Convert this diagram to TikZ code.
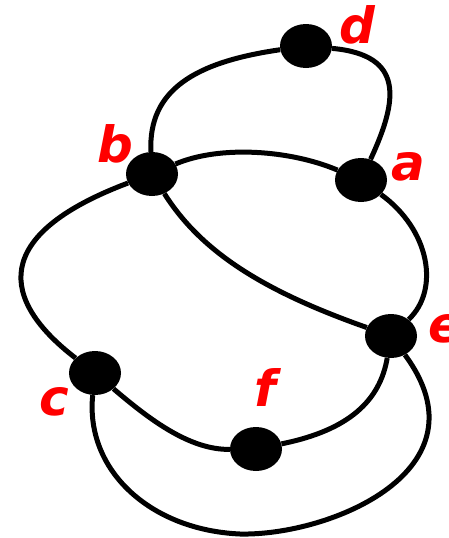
\documentclass[tikz,border=0pt]{standalone}
\usepackage{fontspec}
\newfontfamily\labelfont{DejaVu Sans}
\usepackage{tikz}
\usetikzlibrary{shapes.geometric}
\tikzset{
  vertex dot/.style={
    ellipse,
    fill=black,
    inner sep=0pt,
    minimum width=52pt,
    minimum height=44pt
  },
  edge line/.style={
    line width=5pt,
    color=black
  },
  vertex label/.style={
    anchor=base,
    inner sep=0pt,
    color=red,
    font=\labelfont\bfseries\itshape\fontsize{50}{60}\selectfont
  }
}
\begin{document}
\begin{tikzpicture}[x=1pt, y=-1pt]
    \useasboundingbox (0,0) rectangle (449,538);

    % vertices
    \node[vertex dot] (d) at (306, 46) {};
    \node[vertex dot] (b) at (152, 174) {};
    \node[vertex dot] (a) at (361, 180) {};
    \node[vertex dot] (e) at (391, 336) {};
    \node[vertex dot] (c) at (95, 373) {};
    \node[vertex dot] (f) at (256, 449) {};

    % lowest point of the c--e loop
    \coordinate (ce low) at (240, 534);

    % edges
    \draw[edge line] (b) .. controls (148, 90) and (195, 62) .. (d);
    \draw[edge line] (d) .. controls (405, 55) and (398, 100) .. (a);
    \draw[edge line] (b) .. controls (220, 145) and (290, 150) .. (a);
    \draw[edge line] (b) .. controls (200, 250) and (260, 290) .. (e);
    \draw[edge line] (a) .. controls (430, 230) and (440, 290) .. (e);
    \draw[edge line] (b) .. controls (-10, 235) and (0, 300) .. (c);
    \draw[edge line] (c) .. controls (150, 420) and (190, 450) .. (f);
    \draw[edge line] (f) .. controls (350, 430) and (380, 400) .. (e);
    \draw[edge line] (c) .. controls (85, 470) and (150, 530) .. (ce low)
                         .. controls (330, 536) and (490, 470) .. (e);

    % labels
    \node[vertex label] (d label) at (357, 43) {d};
    \node[vertex label] (a label) at (408, 180) {a};
    \node[vertex label] (b label) at (115, 162) {b};
    \node[vertex label] (e label) at (445, 342) {e};
    \node[vertex label] (c label) at (54, 415) {c};
    \node[vertex label] (f label) at (265, 406) {f};

  \end{tikzpicture}
\end{document}
